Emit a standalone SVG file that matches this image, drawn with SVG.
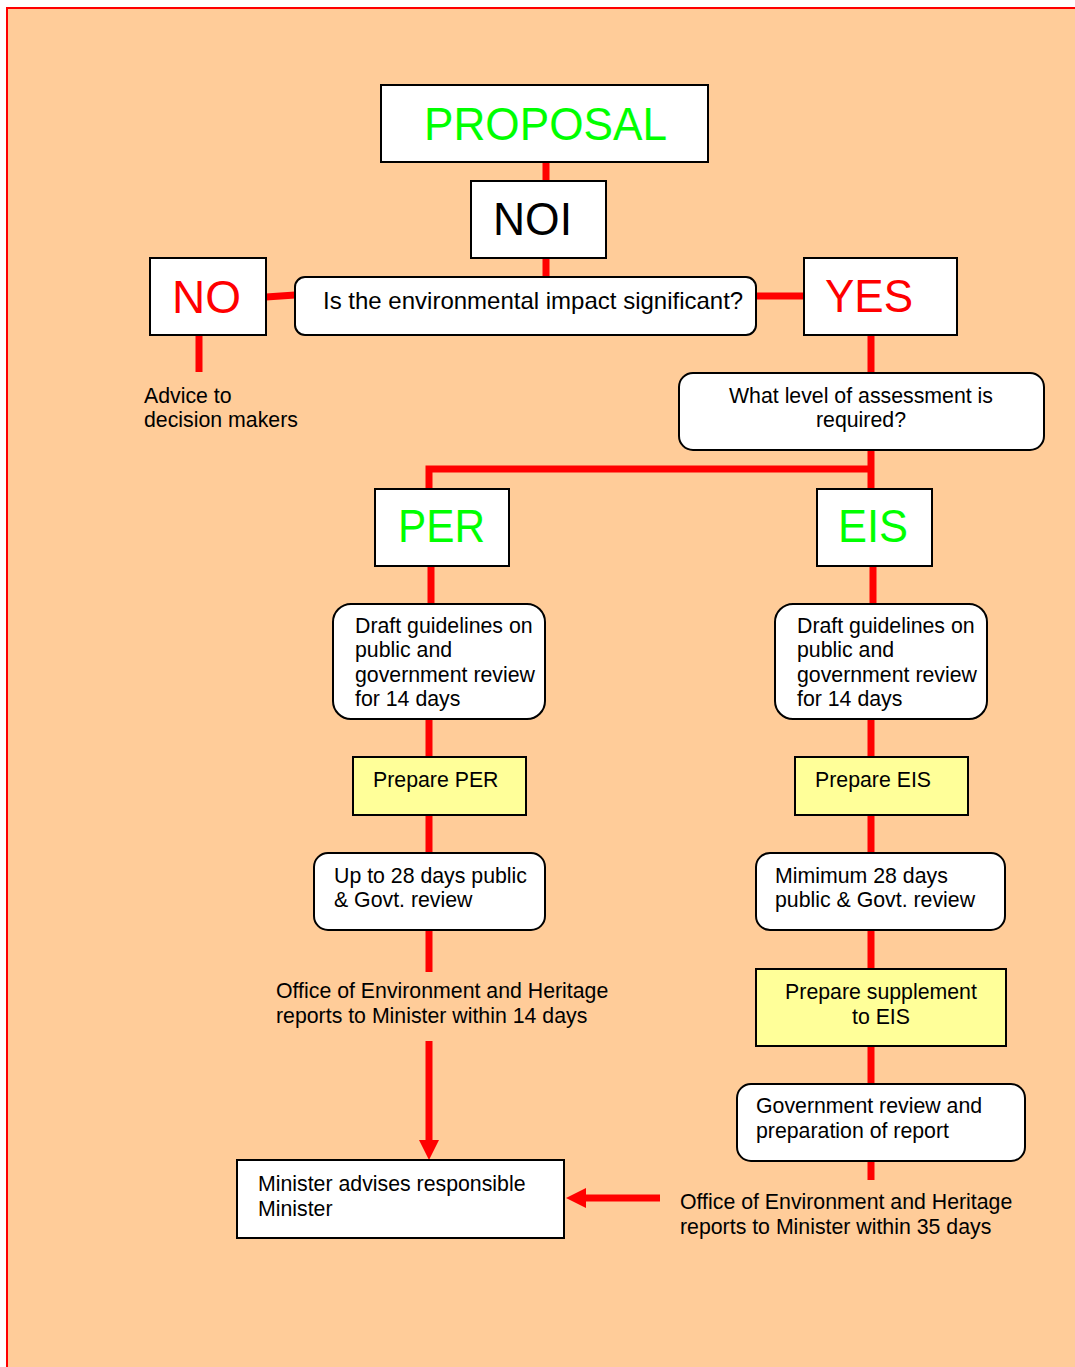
<svg xmlns="http://www.w3.org/2000/svg" width="1075" height="1367" viewBox="0 0 1075 1367">
<defs>
<style>
.bg{fill:#FFCC99;stroke:#FF0000;stroke-width:2}
.box{fill:#FFFFFF;stroke:#000000;stroke-width:2}
.ybox{fill:#FFFF99;stroke:#000000;stroke-width:2}
.con{stroke:#FF0000;stroke-width:7;fill:none}
.t{font-family:"Liberation Sans",Arial,sans-serif;font-size:21.3px;fill:#000000}
.tq{font-family:"Liberation Sans",Arial,sans-serif;font-size:24px;fill:#000000}
.big{font-family:"Liberation Sans",Arial,sans-serif;font-size:46px}
.green{fill:#00FF00}
.red{fill:#FF0000}
.black{fill:#000000}
</style>
<marker id="arr" viewBox="0 0 20 20" markerWidth="20" markerHeight="20" refX="5" refY="10" orient="auto" markerUnits="userSpaceOnUse">
<path d="M0,0 L20,10 L0,20 z" fill="#FF0000"/>
</marker>
</defs>
<rect class="bg" x="7" y="8" width="1100" height="1400"/>

<g id="connectors">
<line class="con" x1="546" y1="162" x2="546" y2="181"/>
<line class="con" x1="546" y1="258" x2="546" y2="277"/>
<line class="con" x1="266" y1="297" x2="295" y2="295"/>
<line class="con" x1="756" y1="296" x2="804" y2="296"/>
<line class="con" x1="199" y1="335" x2="199" y2="372"/>
<line class="con" x1="871" y1="335" x2="871" y2="373"/>
<line class="con" x1="871" y1="450" x2="871" y2="489"/>
<polyline class="con" points="871,469 429,469 429,489"/>
<line class="con" x1="431" y1="566" x2="431" y2="604"/>
<line class="con" x1="873" y1="566" x2="873" y2="604"/>
<line class="con" x1="429" y1="719" x2="429" y2="757"/>
<line class="con" x1="871" y1="719" x2="871" y2="757"/>
<line class="con" x1="429" y1="815" x2="429" y2="853"/>
<line class="con" x1="871" y1="815" x2="871" y2="853"/>
<line class="con" x1="429" y1="930" x2="429" y2="972"/>
<line class="con" x1="429" y1="1041" x2="429" y2="1145" marker-end="url(#arr)"/>
<line class="con" x1="871" y1="930" x2="871" y2="969"/>
<line class="con" x1="871" y1="1046" x2="871" y2="1084"/>
<line class="con" x1="871" y1="1161" x2="871" y2="1180"/>
<line class="con" x1="660" y1="1198" x2="581" y2="1198" marker-end="url(#arr)"/>
</g>

<g id="proposal">
<rect class="box" x="381" y="85" width="327" height="77"/>
<text class="big green" x="424" y="140" textLength="243" lengthAdjust="spacingAndGlyphs">PROPOSAL</text>
</g>
<g id="noi">
<rect class="box" x="471" y="181" width="135" height="77"/>
<text class="big black" x="493" y="235" textLength="79" lengthAdjust="spacingAndGlyphs">NOI</text>
</g>
<g id="no">
<rect class="box" x="150" y="258" width="116" height="77"/>
<text class="big red" x="172" y="313">NO</text>
</g>
<g id="question">
<rect class="box" x="295" y="277" width="461" height="58" rx="10"/>
<text class="tq" x="323" y="309">Is the environmental impact significant?</text>
</g>
<g id="yes">
<rect class="box" x="804" y="258" width="153" height="77"/>
<text class="big red" x="825" y="312" textLength="88" lengthAdjust="spacingAndGlyphs">YES</text>
</g>
<g id="advice">
<text class="t" x="144" y="403">Advice to</text>
<text class="t" x="144" y="427">decision makers</text>
</g>
<g id="level">
<rect class="box" x="679" y="373" width="365" height="77" rx="14"/>
<text class="t" x="861" y="403" text-anchor="middle">What level of assessment is</text>
<text class="t" x="861" y="427" text-anchor="middle">required?</text>
</g>
<g id="per">
<rect class="box" x="375" y="489" width="134" height="77"/>
<text class="big green" x="398" y="542" textLength="87" lengthAdjust="spacingAndGlyphs">PER</text>
</g>
<g id="eis">
<rect class="box" x="817" y="489" width="115" height="77"/>
<text class="big green" x="838" y="542" textLength="70" lengthAdjust="spacingAndGlyphs">EIS</text>
</g>
<g id="draft-per">
<rect class="box" x="333" y="604" width="212" height="115" rx="18"/>
<text class="t" x="355" y="633">Draft guidelines on</text>
<text class="t" x="355" y="657">public and</text>
<text class="t" x="355" y="682">government review</text>
<text class="t" x="355" y="706">for 14 days</text>
</g>
<g id="draft-eis">
<rect class="box" x="775" y="604" width="212" height="115" rx="18"/>
<text class="t" x="797" y="633">Draft guidelines on</text>
<text class="t" x="797" y="657">public and</text>
<text class="t" x="797" y="682">government review</text>
<text class="t" x="797" y="706">for 14 days</text>
</g>
<g id="prepare-per">
<rect class="ybox" x="353" y="757" width="173" height="58"/>
<text class="t" x="373" y="787">Prepare PER</text>
</g>
<g id="prepare-eis">
<rect class="ybox" x="795" y="757" width="173" height="58"/>
<text class="t" x="815" y="787">Prepare EIS</text>
</g>
<g id="review-per">
<rect class="box" x="314" y="853" width="231" height="77" rx="14"/>
<text class="t" x="334" y="883">Up to 28 days public</text>
<text class="t" x="334" y="907">&amp; Govt. review</text>
</g>
<g id="review-eis">
<rect class="box" x="756" y="853" width="249" height="77" rx="14"/>
<text class="t" x="775" y="883">Mimimum 28 days</text>
<text class="t" x="775" y="907">public &amp; Govt. review</text>
</g>
<g id="oeh-14">
<text class="t" x="276" y="998">Office of Environment and Heritage</text>
<text class="t" x="276" y="1023">reports to Minister within 14 days</text>
</g>
<g id="supplement">
<rect class="ybox" x="756" y="969" width="250" height="77"/>
<text class="t" x="881" y="999" text-anchor="middle">Prepare supplement</text>
<text class="t" x="881" y="1024" text-anchor="middle">to EIS</text>
</g>
<g id="gov-review">
<rect class="box" x="737" y="1084" width="288" height="77" rx="14"/>
<text class="t" x="756" y="1113">Government review and</text>
<text class="t" x="756" y="1138">preparation of report</text>
</g>
<g id="minister">
<rect class="box" x="237" y="1160" width="327" height="78"/>
<text class="t" x="258" y="1191">Minister advises responsible</text>
<text class="t" x="258" y="1216">Minister</text>
</g>
<g id="oeh-35">
<text class="t" x="680" y="1209">Office of Environment and Heritage</text>
<text class="t" x="680" y="1234">reports to Minister within 35 days</text>
</g>
</svg>
